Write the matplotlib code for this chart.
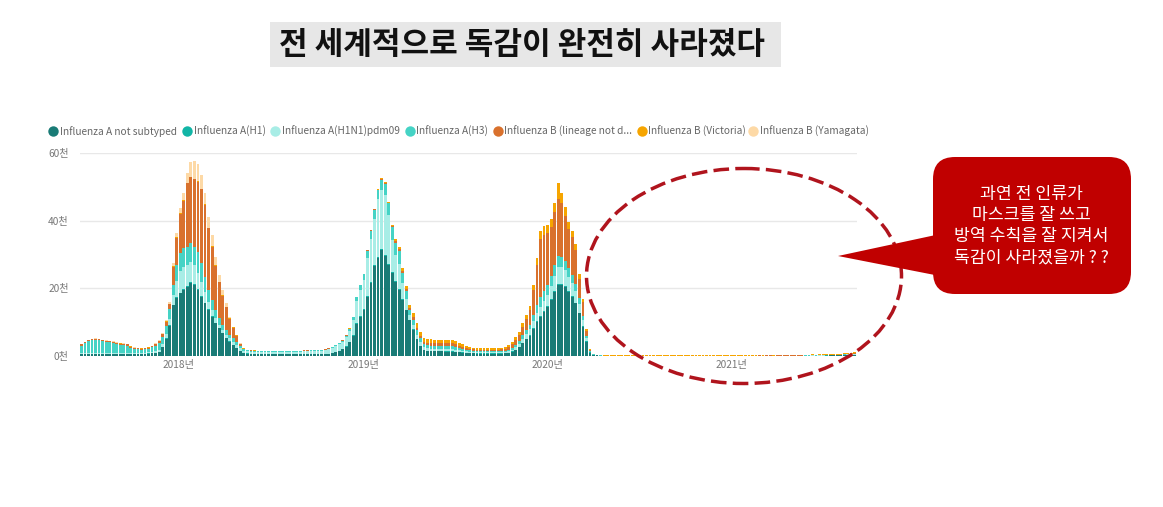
import matplotlib
matplotlib.use('Agg')
import matplotlib.pyplot as plt
from matplotlib.patches import Ellipse, FancyBboxPatch, Polygon, Rectangle
import numpy as np
import pandas as pd

plt.rcParams['font.family'] = ['Noto Sans CJK KR', 'DejaVu Sans']

# weekly counts in thousands, from 2017-06-19 (220 weeks)
weeks = pd.date_range('2017-06-19', periods=220, freq='7D')

a_not_subtyped = [
    0.6, 0.6, 0.6, 0.6, 0.6, 0.6, 0.6, 0.6, 0.6, 0.6,
    0.6, 0.6, 0.6, 0.6, 0.6, 0.6, 0.6, 0.6, 0.65, 0.7,
    0.8, 0.95, 1.2, 2.6, 5.0, 9.0, 15.0, 17.1, 18.5, 19.5,
    20.5, 21.7, 21.0, 19.5, 17.5, 15.6, 13.6, 11.6, 9.7, 8.2,
    6.7, 5.2, 4.2, 3.2, 2.3, 1.5, 0.9, 0.7, 0.6, 0.55,
    0.5, 0.45, 0.45, 0.45, 0.45, 0.45, 0.45, 0.45, 0.5, 0.45,
    0.45, 0.5, 0.5, 0.5, 0.5, 0.55, 0.55, 0.6, 0.55, 0.6,
    0.6, 0.8, 1.1, 1.5, 2.0, 2.8, 4.0, 6.0, 9.5, 11.6,
    13.6, 17.5, 21.5, 26.5, 29.0, 31.3, 29.5, 27.0, 24.5, 22.0,
    19.5, 16.5, 13.5, 10.5, 7.8, 5.0, 3.0, 1.8, 1.5, 1.4,
    1.4, 1.4, 1.4, 1.3, 1.3, 1.3, 1.2, 1.1, 1.0, 0.9,
    0.8, 0.8, 0.7, 0.7, 0.7, 0.7, 0.7, 0.7, 0.7, 0.7,
    0.8, 0.9, 1.3, 1.8, 2.6, 3.8, 5.0, 6.0, 8.0, 10.0,
    11.6, 13.0, 14.6, 16.6, 19.0, 21.0, 21.0, 20.5, 19.0, 17.5,
    15.6, 12.6, 8.7, 4.2, 1.0, 0.3, 0.15, 0.1, 0.06, 0.05,
    0.05, 0.04, 0.04, 0.05, 0.04, 0.04, 0.03, 0.04, 0.04, 0.03,
    0.03, 0.04, 0.03, 0.03, 0.04, 0.03, 0.03, 0.04, 0.03, 0.03,
    0.04, 0.04, 0.03, 0.04, 0.05, 0.04, 0.04, 0.05, 0.04, 0.05,
    0.05, 0.06, 0.05, 0.05, 0.06, 0.05, 0.06, 0.06, 0.05, 0.06,
    0.06, 0.06, 0.07, 0.06, 0.07, 0.07, 0.06, 0.07, 0.08, 0.07,
    0.08, 0.08, 0.09, 0.08, 0.09, 0.1, 0.1, 0.11, 0.1, 0.12,
    0.12, 0.14, 0.15, 0.17, 0.2, 0.24, 0.28, 0.32, 0.36, 0.4,
]

a_h1 = [
    0.05, 0.05, 0.05, 0.05, 0.05, 0.05, 0.05, 0.05, 0.05, 0.05,
    0.05, 0.05, 0.05, 0.05, 0.05, 0.05, 0.05, 0.05, 0.05, 0.05,
    0.05, 0.05, 0.1, 0.1, 0.2, 0.2, 0.2, 0.2, 0.2, 0.2,
    0.2, 0.2, 0.2, 0.2, 0.2, 0.2, 0.2, 0.2, 0.1, 0.1,
    0.1, 0.1, 0.1, 0.1, 0.1, 0.1, 0.05, 0.05, 0.05, 0.05,
    0.05, 0.05, 0.05, 0.05, 0.05, 0.05, 0.05, 0.05, 0.05, 0.05,
    0.05, 0.05, 0.05, 0.05, 0.05, 0.05, 0.05, 0.05, 0.05, 0.05,
    0.05, 0.05, 0.05, 0.05, 0.05, 0.05, 0.1, 0.1, 0.2, 0.2,
    0.2, 0.3, 0.3, 0.3, 0.3, 0.3, 0.3, 0.3, 0.3, 0.2,
    0.2, 0.2, 0.2, 0.1, 0.1, 0.1, 0.1, 0.1, 0.1, 0.1,
    0.1, 0.1, 0.1, 0.1, 0.1, 0.1, 0.1, 0.1, 0.1, 0.1,
    0.1, 0.1, 0.1, 0.1, 0.1, 0.1, 0.1, 0.1, 0.1, 0.1,
    0.1, 0.1, 0.1, 0.1, 0.1, 0.1, 0.1, 0.2, 0.2, 0.2,
    0.2, 0.2, 0.2, 0.2, 0.2, 0.2, 0.2, 0.2, 0.2, 0.2,
    0.2, 0.2, 0.1, 0.1, 0.05, 0.02, 0.01, 0.01, 0.01, 0.01,
    0.01, 0.01, 0.0, 0.01, 0.01, 0.0, 0.01, 0.01, 0.0, 0.01,
    0.01, 0.0, 0.01, 0.01, 0.0, 0.01, 0.0, 0.01, 0.01, 0.0,
    0.01, 0.01, 0.0, 0.01, 0.01, 0.0, 0.01, 0.01, 0.0, 0.01,
    0.01, 0.0, 0.01, 0.01, 0.01, 0.0, 0.01, 0.01, 0.01, 0.0,
    0.01, 0.01, 0.01, 0.0, 0.01, 0.01, 0.01, 0.01, 0.0, 0.01,
    0.01, 0.01, 0.01, 0.01, 0.0, 0.01, 0.01, 0.01, 0.01, 0.01,
    0.01, 0.01, 0.01, 0.02, 0.02, 0.02, 0.02, 0.03, 0.03, 0.03,
]

a_h1n1pdm09 = [
    0.3, 0.3, 0.3, 0.3, 0.3, 0.3, 0.3, 0.3, 0.3, 0.3,
    0.3, 0.3, 0.3, 0.3, 0.3, 0.3, 0.3, 0.3, 0.3, 0.3,
    0.3, 0.35, 0.4, 0.7, 1.2, 1.8, 2.8, 5.0, 6.3, 6.6,
    6.2, 6.0, 5.7, 4.7, 4.3, 3.2, 2.3, 1.8, 1.3, 0.9,
    0.9, 0.9, 0.9, 0.9, 0.8, 0.7, 0.6, 0.6, 0.65, 0.65,
    0.75, 0.7, 0.7, 0.7, 0.7, 0.7, 0.7, 0.7, 0.75, 0.7,
    0.7, 0.75, 0.75, 0.85, 0.85, 0.9, 0.9, 0.95, 0.9, 1.05,
    1.3, 1.4, 1.7, 2.0, 2.2, 2.8, 3.4, 4.6, 6.6, 7.7,
    8.6, 11.2, 12.7, 13.6, 17.0, 17.5, 17.8, 14.3, 9.6, 7.6,
    7.6, 4.8, 3.1, 1.6, 1.4, 1.2, 1.0, 0.8, 0.7, 0.7,
    0.7, 0.7, 0.7, 0.7, 0.6, 0.6, 0.6, 0.5, 0.5, 0.4,
    0.4, 0.3, 0.3, 0.3, 0.3, 0.3, 0.3, 0.3, 0.3, 0.3,
    0.3, 0.4, 0.5, 0.7, 0.9, 1.2, 1.4, 1.7, 2.0, 2.5,
    2.8, 3.0, 3.3, 3.8, 4.5, 5.2, 5.0, 4.6, 4.2, 3.9,
    3.5, 2.7, 1.9, 0.9, 0.25, 0.1, 0.05, 0.03, 0.02, 0.02,
    0.02, 0.02, 0.02, 0.02, 0.02, 0.02, 0.02, 0.02, 0.02, 0.02,
    0.02, 0.02, 0.02, 0.02, 0.02, 0.02, 0.02, 0.02, 0.02, 0.02,
    0.02, 0.02, 0.02, 0.02, 0.02, 0.02, 0.02, 0.02, 0.02, 0.02,
    0.02, 0.02, 0.02, 0.02, 0.02, 0.02, 0.02, 0.02, 0.02, 0.02,
    0.02, 0.02, 0.02, 0.02, 0.02, 0.02, 0.02, 0.02, 0.02, 0.02,
    0.02, 0.02, 0.02, 0.02, 0.02, 0.03, 0.02, 0.03, 0.03, 0.03,
    0.03, 0.03, 0.04, 0.05, 0.06, 0.08, 0.1, 0.12, 0.14, 0.16,
]

a_h3 = [
    2.15, 2.75, 3.35, 3.65, 3.75, 3.65, 3.35, 3.15, 3.05, 2.85,
    2.55, 2.35, 2.25, 2.15, 1.55, 1.15, 1.05, 0.95, 0.95, 1.15,
    1.4, 1.7, 2.0, 2.2, 2.5, 2.8, 3.0, 4.5, 5.4, 5.5,
    5.4, 5.4, 5.4, 6.4, 5.4, 4.4, 3.4, 3.0, 2.5, 1.9,
    1.5, 1.5, 1.0, 1.0, 1.0, 0.7, 0.4, 0.3, 0.3, 0.3,
    0.2, 0.2, 0.2, 0.2, 0.2, 0.2, 0.2, 0.2, 0.2, 0.2,
    0.2, 0.2, 0.2, 0.2, 0.2, 0.2, 0.2, 0.2, 0.2, 0.2,
    0.25, 0.3, 0.3, 0.3, 0.3, 0.4, 0.5, 0.8, 1.1, 1.4,
    1.7, 2.1, 2.5, 2.8, 2.8, 3.0, 3.3, 3.5, 3.6, 3.7,
    3.8, 3.0, 2.5, 1.5, 1.4, 1.3, 1.1, 0.9, 0.9, 0.9,
    0.9, 0.9, 0.9, 0.9, 0.9, 0.9, 0.8, 0.7, 0.6, 0.5,
    0.5, 0.4, 0.4, 0.4, 0.4, 0.4, 0.4, 0.4, 0.4, 0.4,
    0.4, 0.5, 0.6, 0.7, 0.8, 1.0, 1.2, 1.4, 1.8, 2.3,
    2.8, 2.9, 3.0, 3.0, 3.1, 3.1, 3.0, 2.7, 2.5, 2.3,
    2.0, 1.6, 1.2, 0.6, 0.2, 0.05, 0.03, 0.02, 0.02, 0.02,
    0.02, 0.02, 0.02, 0.02, 0.02, 0.02, 0.02, 0.02, 0.02, 0.02,
    0.02, 0.02, 0.02, 0.02, 0.02, 0.02, 0.02, 0.02, 0.02, 0.02,
    0.02, 0.02, 0.02, 0.02, 0.02, 0.02, 0.02, 0.02, 0.02, 0.02,
    0.02, 0.02, 0.02, 0.02, 0.02, 0.02, 0.02, 0.02, 0.02, 0.02,
    0.02, 0.02, 0.02, 0.02, 0.02, 0.02, 0.02, 0.02, 0.02, 0.02,
    0.02, 0.02, 0.02, 0.02, 0.02, 0.02, 0.02, 0.02, 0.02, 0.02,
    0.02, 0.02, 0.03, 0.04, 0.05, 0.06, 0.08, 0.1, 0.12, 0.14,
]

b_not_determined = [
    0.3, 0.3, 0.3, 0.3, 0.3, 0.3, 0.3, 0.3, 0.3, 0.3,
    0.3, 0.3, 0.3, 0.3, 0.3, 0.3, 0.3, 0.3, 0.3, 0.3,
    0.35, 0.4, 0.6, 0.9, 1.2, 1.5, 5.4, 8.1, 11.7, 14.0,
    18.7, 19.5, 19.9, 20.7, 21.9, 21.2, 18.2, 15.7, 13.1, 10.7,
    8.6, 6.7, 4.7, 3.2, 1.8, 0.6, 0.25, 0.15, 0.1, 0.05,
    0.05, 0.05, 0.05, 0.05, 0.05, 0.05, 0.05, 0.05, 0.05, 0.05,
    0.05, 0.05, 0.05, 0.05, 0.05, 0.05, 0.05, 0.05, 0.05, 0.05,
    0.05, 0.05, 0.05, 0.05, 0.05, 0.05, 0.1, 0.1, 0.1, 0.1,
    0.1, 0.2, 0.2, 0.2, 0.1, 0.2, 0.2, 0.2, 0.3, 0.4,
    0.5, 0.6, 0.6, 0.6, 0.7, 0.8, 0.8, 0.6, 0.7, 0.8,
    0.8, 0.7, 0.8, 0.8, 0.9, 0.8, 0.8, 0.6, 0.5, 0.5,
    0.4, 0.4, 0.4, 0.4, 0.4, 0.4, 0.4, 0.4, 0.4, 0.5,
    0.6, 0.7, 1.0, 1.4, 1.9, 2.6, 3.3, 4.3, 7.5, 12.0,
    17.3, 16.8, 15.2, 14.5, 15.7, 17.0, 16.1, 13.5, 11.5, 11.2,
    10.0, 5.8, 4.0, 1.7, 0.35, 0.1, 0.05, 0.04, 0.03, 0.03,
    0.03, 0.03, 0.03, 0.03, 0.03, 0.03, 0.03, 0.03, 0.03, 0.03,
    0.03, 0.03, 0.03, 0.03, 0.03, 0.03, 0.03, 0.03, 0.03, 0.03,
    0.03, 0.03, 0.03, 0.03, 0.03, 0.03, 0.03, 0.03, 0.03, 0.03,
    0.03, 0.03, 0.03, 0.03, 0.03, 0.03, 0.03, 0.03, 0.03, 0.03,
    0.03, 0.03, 0.03, 0.03, 0.03, 0.03, 0.03, 0.03, 0.03, 0.03,
    0.03, 0.03, 0.03, 0.03, 0.03, 0.03, 0.03, 0.03, 0.03, 0.03,
    0.03, 0.03, 0.03, 0.03, 0.03, 0.03, 0.03, 0.03, 0.03, 0.03,
]

b_victoria = [
    0.1, 0.1, 0.1, 0.1, 0.1, 0.1, 0.1, 0.1, 0.1, 0.1,
    0.1, 0.1, 0.1, 0.1, 0.1, 0.1, 0.1, 0.1, 0.1, 0.1,
    0.1, 0.1, 0.1, 0.1, 0.1, 0.1, 0.2, 0.2, 0.2, 0.2,
    0.2, 0.2, 0.2, 0.2, 0.2, 0.2, 0.2, 0.2, 0.2, 0.2,
    0.2, 0.2, 0.2, 0.2, 0.1, 0.05, 0.05, 0.05, 0.05, 0.05,
    0.05, 0.05, 0.05, 0.05, 0.05, 0.05, 0.05, 0.05, 0.05, 0.05,
    0.05, 0.05, 0.05, 0.05, 0.05, 0.05, 0.05, 0.05, 0.05, 0.05,
    0.05, 0.05, 0.05, 0.05, 0.05, 0.05, 0.05, 0.05, 0.05, 0.05,
    0.05, 0.05, 0.05, 0.05, 0.1, 0.2, 0.2, 0.3, 0.4, 0.6,
    0.7, 0.8, 0.8, 0.8, 1.2, 1.3, 1.2, 1.0, 1.0, 1.0,
    0.9, 0.9, 0.9, 0.9, 0.9, 0.9, 0.9, 0.8, 0.7, 0.6,
    0.5, 0.5, 0.5, 0.4, 0.4, 0.4, 0.4, 0.5, 0.5, 0.5,
    0.5, 0.6, 0.7, 0.8, 0.9, 1.0, 1.1, 1.2, 1.5, 2.0,
    2.3, 2.4, 2.4, 2.4, 2.8, 4.5, 3.0, 2.5, 2.1, 1.9,
    1.7, 1.3, 0.9, 0.5, 0.15, 0.05, 0.02, 0.02, 0.03, 0.03,
    0.04, 0.04, 0.05, 0.04, 0.05, 0.05, 0.06, 0.05, 0.06, 0.06,
    0.06, 0.07, 0.06, 0.07, 0.07, 0.08, 0.07, 0.08, 0.08, 0.09,
    0.09, 0.1, 0.09, 0.1, 0.11, 0.1, 0.12, 0.11, 0.12, 0.13,
    0.13, 0.14, 0.15, 0.14, 0.16, 0.15, 0.17, 0.16, 0.18, 0.17,
    0.18, 0.19, 0.2, 0.19, 0.2, 0.21, 0.2, 0.22, 0.21, 0.22,
    0.23, 0.22, 0.24, 0.23, 0.25, 0.24, 0.25, 0.26, 0.25, 0.26,
    0.26, 0.27, 0.26, 0.27, 0.28, 0.27, 0.28, 0.29, 0.28, 0.3,
]

b_yamagata = [
    0.1, 0.1, 0.1, 0.1, 0.1, 0.1, 0.1, 0.1, 0.1, 0.1,
    0.1, 0.1, 0.1, 0.1, 0.1, 0.1, 0.1, 0.1, 0.1, 0.1,
    0.1, 0.15, 0.2, 0.3, 0.4, 0.6, 0.8, 1.2, 1.4, 2.1,
    2.8, 4.4, 5.3, 5.1, 4.0, 3.4, 3.3, 3.3, 2.5, 1.9,
    1.5, 1.0, 0.5, 0.1, 0.1, 0.05, 0.05, 0.05, 0.05, 0.05,
    0.02, 0.02, 0.02, 0.02, 0.02, 0.02, 0.02, 0.02, 0.02, 0.02,
    0.02, 0.02, 0.02, 0.02, 0.02, 0.02, 0.02, 0.02, 0.02, 0.02,
    0.02, 0.02, 0.02, 0.02, 0.02, 0.02, 0.02, 0.02, 0.02, 0.02,
    0.02, 0.02, 0.02, 0.02, 0.02, 0.02, 0.02, 0.02, 0.02, 0.02,
    0.02, 0.02, 0.02, 0.02, 0.02, 0.02, 0.02, 0.02, 0.02, 0.02,
    0.01, 0.01, 0.01, 0.01, 0.01, 0.01, 0.01, 0.01, 0.01, 0.01,
    0.01, 0.01, 0.01, 0.01, 0.01, 0.01, 0.01, 0.01, 0.01, 0.01,
    0.01, 0.01, 0.01, 0.01, 0.01, 0.01, 0.01, 0.01, 0.01, 0.01,
    0.01, 0.01, 0.01, 0.01, 0.01, 0.01, 0.01, 0.01, 0.01, 0.01,
    0.01, 0.01, 0.01, 0.01, 0.01, 0.0, 0.0, 0.0, 0.0, 0.0,
    0.0, 0.0, 0.0, 0.0, 0.0, 0.0, 0.0, 0.0, 0.0, 0.0,
    0.0, 0.0, 0.0, 0.0, 0.0, 0.0, 0.0, 0.0, 0.0, 0.0,
    0.0, 0.0, 0.0, 0.0, 0.0, 0.0, 0.0, 0.0, 0.0, 0.0,
    0.0, 0.0, 0.0, 0.0, 0.0, 0.0, 0.0, 0.0, 0.0, 0.0,
    0.0, 0.0, 0.0, 0.0, 0.0, 0.0, 0.0, 0.0, 0.0, 0.0,
    0.0, 0.0, 0.0, 0.0, 0.0, 0.0, 0.0, 0.0, 0.0, 0.0,
    0.0, 0.0, 0.0, 0.0, 0.0, 0.0, 0.0, 0.0, 0.0, 0.0,
]

labels = ['Influenza A not subtyped', 'Influenza A(H1)', 'Influenza A(H1N1)pdm09',
          'Influenza A(H3)', 'Influenza B (lineage not d...', 'Influenza B (Victoria)',
          'Influenza B (Yamagata)']
colors = ['#197b76', '#12b5a6', '#a8ede6', '#45d3c5', '#d9712d', '#f6a500', '#fdd9a6']
values = [a_not_subtyped, a_h1, a_h1n1pdm09, a_h3, b_not_determined, b_victoria, b_yamagata]

y_ticks = [0, 20, 40, 60]
y_labels = ['0천', '20천', '40천', '60천']
x_ticks = ['2018-01-01', '2019-01-01', '2020-01-01', '2021-01-01']
x_labels = ['2018년', '2019년', '2020년', '2021년']

title = '전 세계적으로 독감이 완전히 사라졌다'
callout = ['과연 전 인류가', '마스크를 잘 쓰고', '방역 수칙을 잘 지켜서', '독감이 사라졌을까 ? ?']

W, H = 1163, 507
fig = plt.figure(figsize=(W / 100, H / 100), dpi=100)
fig.patch.set_facecolor('white')

ax = fig.add_axes([80 / W, 151 / H, 777 / W, 203 / H])
bottom = np.zeros(len(weeks))
for vals, col in zip(values, colors):
    ax.bar(weeks, vals, width=5.6, bottom=bottom, color=col, align='edge', linewidth=0, zorder=3)
    bottom += np.array(vals)

ax.set_xlim(pd.Timestamp('2017-06-19'), pd.Timestamp('2021-09-06'))
ax.set_ylim(0, 60)
ax.set_yticks(y_ticks)
ax.set_yticklabels(y_labels)
ax.set_xticks(pd.to_datetime(x_ticks))
ax.set_xticklabels(x_labels)
ax.yaxis.grid(True, color='#e8e8e8', lw=1, zorder=0)
for s in ax.spines.values():
    s.set_visible(False)
ax.tick_params(axis='both', length=0, labelsize=7.3, labelcolor='#777777')
ax.tick_params(axis='y', pad=8)
ax.tick_params(axis='x', pad=3)
ax.set_facecolor('none')

# overlay in pixel coordinates for the annotations
ov = fig.add_axes([0, 0, 1, 1], zorder=5)
ov.set_xlim(0, W)
ov.set_ylim(H, 0)
ov.axis('off')
ov.patch.set_alpha(0)

ov.add_patch(Rectangle((270, 22), 511, 45, color='#e7e7e7', lw=0))
ov.text(522, 45, title, fontsize=22.4, fontweight='bold', ha='center', va='center', color='#111111')

# legend row
leg_x = [53, 187, 275, 410, 498, 642, 753]
for lx, lab, col in zip(leg_x, labels, colors):
    ov.plot(lx, 131, 'o', ms=7.5, color=col, mec='none')
    ov.text(lx + 6.5, 131.5, lab, fontsize=7.3, color='#666666', va='center', ha='left')

ov.add_patch(Ellipse((744, 276), 315, 215, fill=False, edgecolor='#b0141d', lw=2.5,
                     linestyle=(0, (4.5, 1.8))))

red = '#c00000'
ov.add_patch(Polygon([(838, 256), (945, 233), (945, 277)], closed=True, color=red, lw=0))
ov.add_patch(FancyBboxPatch((933, 157), 198, 137, boxstyle='round,pad=0,rounding_size=22',
                            color=red, lw=0))
for k, line in enumerate(callout):
    ov.text(1031, 194 + k * 21, line, fontsize=12.4, fontweight='medium', color='white',
            ha='center', va='center')

fig.savefig('out.png', dpi=100, facecolor='white')
